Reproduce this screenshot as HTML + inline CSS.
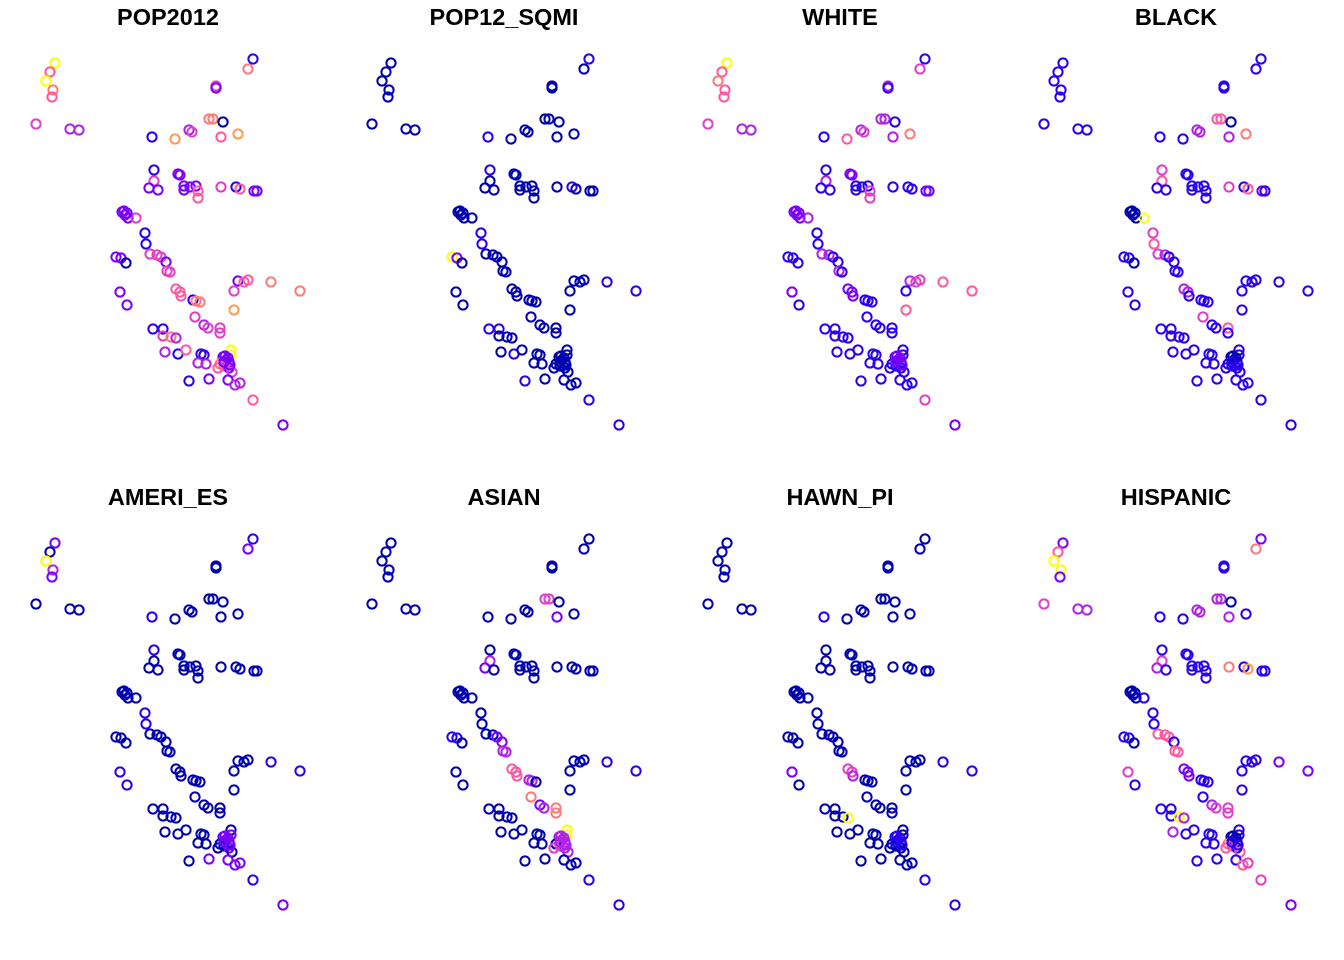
<!DOCTYPE html>
<html><head><meta charset="utf-8"><style>
html,body{margin:0;padding:0;background:#fff;}
svg{display:block;}
text{font-family:"Liberation Sans",sans-serif;font-weight:bold;font-size:23.5px;fill:#000;}
</style></head><body>
<svg id="chart" width="1344" height="960"></svg>
<script>
const titles=["POP2012","POP12_SQMI","WHITE","BLACK","AMERI_ES","ASIAN","HAWN_PI","HISPANIC"];
const px=[55,50,46,53,52,36,70,79,152,175,189,192,221,238,209,213,223,216,216,248,253,154,154,149,158,178,180,184,184,190,196,198,198,221,236,240,254,257,122,125,128,136,145,146,116,121,126,150,157,161,166,167,170,120,127,176,180,181,193,196,200,195,204,208,220,220,238,244,248,234,271,300,234,153,163,163,171,176,165,178,186,201,204,198,206,231,231,226,223,229,220,224,218,229,232,189,209,228,235,240,253,283,124,127,225,228,224,230];
const py=[63,72,81,90,97,124,129,130,137,139,130,132,137,134,119,119,122,86,88,69,59,170,181,188,190,174,175,186,190,187,186,191,198,187,187,189,191,191,212,215,218,218,233,244,257,258,263,254,255,257,262,271,272,292,305,289,292,296,300,301,302,317,325,328,328,333,281,282,280,291,282,291,310,329,329,336,337,338,352,354,350,354,355,363,364,350,355,360,357,362,364,366,368,368,372,381,379,380,385,383,400,425,211,213,356,358,362,365];
const levelsPop2012=[8,5,8,6,5,4,3,3,1,7,3,4,5,7,6,6,0,4,2,6,1,1,4,2,2,2,2,2,2,2,2,5,5,4,1,5,2,2,2,2,2,4,1,1,2,2,0,4,4,4,2,4,4,2,2,5,5,5,1,6,6,4,3,4,4,4,2,5,5,4,6,6,7,1,1,4,6,3,3,1,5,1,1,3,3,8,8,2,2,2,6,5,5,2,4,1,2,2,3,3,5,2,2,2,2,2,2,2];
const defaults=[null,0,1,1,0,0,0,1];
const overrides=[
 {},
 {44:8,45:2,8:1,20:1,21:1,34:1,73:1,74:1,79:1,95:1,101:1,100:1,70:1,71:1,42:1,43:1},
 {0:8,1:5,2:6,3:5,4:5,5:4,6:3,7:3,9:5,10:3,11:4,13:6,14:3,15:3,17:3,19:4,22:3,31:4,32:4,38:2,39:2,40:2,41:3,47:3,48:3,51:3,55:2,56:2,57:2,66:3,67:4,68:4,70:5,71:5,72:5,100:4,101:2,87:2,88:2,89:2,12:3,25:2,26:2,36:2,37:2,53:2,102:2,103:2,104:2,105:2,106:2,107:2},
 {16:0,46:0,14:5,15:5,13:6,22:5,21:4,35:5,33:4,41:8,38:0,39:0,40:0,102:0,103:0,42:4,43:5,47:4,48:3,55:3,56:3,61:4,64:5,87:0,88:0,89:0,104:0,105:0,11:3,10:3,12:3,36:2},
 {0:2,2:8,3:3,4:2,19:2,20:1,87:2,88:2,89:2,104:2,105:2,106:2,107:2,93:2,96:2,97:2,98:2,99:2,101:2,86:2,8:1,21:1,42:1,43:1,53:1,54:1,71:1,70:1,100:1},
 {14:4,15:4,12:2,23:2,22:3,44:1,45:1,49:2,50:2,51:3,52:3,55:5,56:5,57:5,58:3,59:3,62:2,61:6,64:6,65:6,63:3,85:8,86:8,87:3,88:3,89:3,104:3,105:3,106:3,107:3,93:3,94:3,91:4,92:4,101:1,100:1,71:1,70:1},
 {53:2,55:4,56:4,57:3,77:8,87:1,88:1,89:1,104:1,105:1,106:1,107:1,8:1,101:1,100:1,71:1,70:1},
 {0:2,1:5,2:8,3:8,4:2,19:6,20:2,16:0,38:0,39:0,40:0,102:0,103:0,46:0,33:6,35:7,11:3,10:3,14:3,15:3,12:3,22:4,23:3,47:5,48:5,49:5,51:5,52:5,53:4,71:2,70:2,101:2,100:4,98:5,99:4,76:8,77:3,78:3,91:4,92:5,94:5,90:6,55:2,56:2,57:2,62:3,63:4,64:4,65:4,87:0,88:0,89:0,104:0,105:0,5:4,6:3,7:3}
];
const palette=["#0000AE","#2A00F5","#7A00FF","#B022E6","#E040C8","#FF5AA0","#FF7A7A","#FF9A50","#FFFF00"];
const NS="http://www.w3.org/2000/svg";
const svg=document.getElementById('chart');
for(let p=0;p<8;p++){
  const ox=(p%4)*336, oy=Math.floor(p/4)*480;
  const g=document.createElementNS(NS,'g');
  
  
  svg.appendChild(g);
  const t=document.createElementNS(NS,'text');
  
  
  t.setAttribute('x',ox+168);t.setAttribute('y',oy+25);t.setAttribute('text-anchor','middle');
  t.textContent=titles[p];g.appendChild(t);
  for(let i=0;i<px.length;i++){
    let lv=p===0?levelsPop2012[i]:(overrides[p][i]!==undefined?overrides[p][i]:defaults[p]);
    const c=document.createElementNS(NS,'circle');
    
    
    c.setAttribute('cx',ox+px[i]);c.setAttribute('cy',oy+py[i]);c.setAttribute('r',4.6);
    c.setAttribute('fill','none');c.setAttribute('stroke',palette[lv]);c.setAttribute('stroke-width',2);
    g.appendChild(c);
  }
}
</script>
</body></html>
